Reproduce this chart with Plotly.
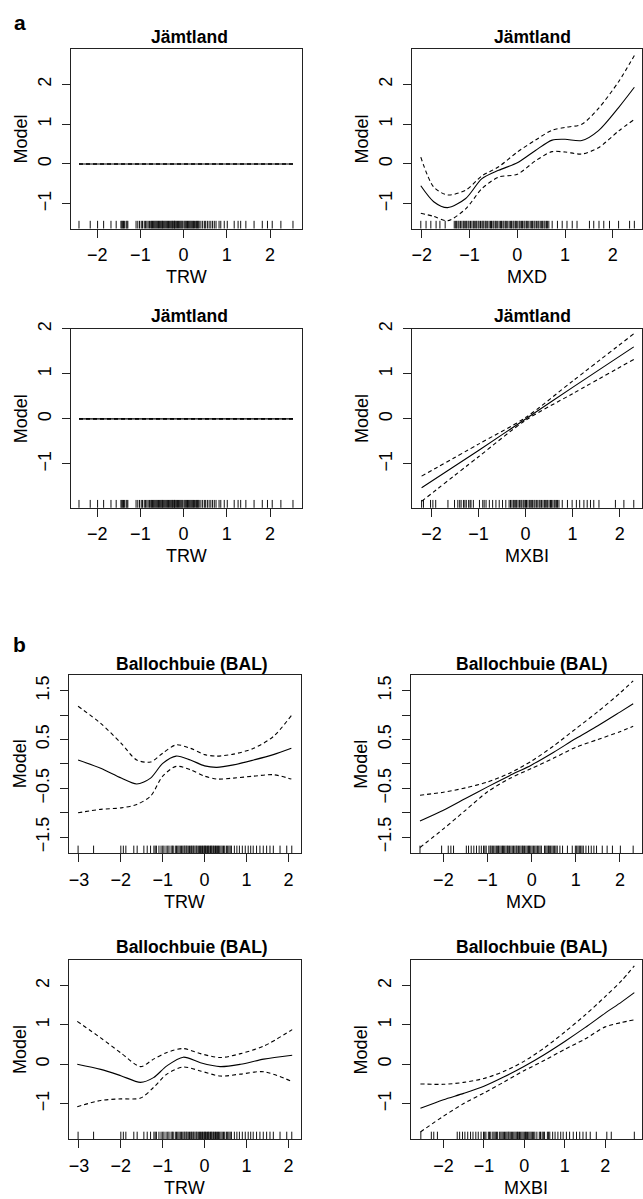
import plotly.graph_objects as go

W, H = 643, 1199
FONT = "Liberation Sans, Arial, Helvetica, sans-serif"

# ---------------- Jämtland ----------------
# TRW smooth (shrunk to zero)
jam_trw_x = [-2.42, 2.53]
jam_trw_fit = [0.0, 0.0]
jam_trw_up = [0.0, 0.0]
jam_trw_lo = [0.0, 0.0]
jam_trw_rug = [-2.42, -2.16, -1.99, -1.85, -1.68, -1.56, -1.45, -1.43, -1.41, -1.39, -1.37, -1.33,
               -1.31, -1.29, -1.10, -1.06, -1.02, -0.98, -0.95, -0.91, -0.88, -0.85, -0.82, -0.79,
               -0.76, -0.74, -0.72, -0.70, -0.68, -0.66, -0.64, -0.62, -0.60, -0.58, -0.56, -0.54,
               -0.52, -0.50, -0.49, -0.47, -0.45, -0.43, -0.41, -0.39, -0.37, -0.35, -0.33, -0.31,
               -0.29, -0.27, -0.26, -0.24, -0.22, -0.21, -0.20, -0.18, -0.16, -0.14, -0.12, -0.10,
               -0.08, -0.06, -0.04, -0.02, 0.01, 0.03, 0.05, 0.07, 0.09, 0.11, 0.13, 0.15, 0.17,
               0.19, 0.21, 0.23, 0.25, 0.28, 0.30, 0.32, 0.34, 0.36, 0.40, 0.44, 0.48, 0.51, 0.55,
               0.59, 0.63, 0.67, 0.71, 0.75, 0.82, 0.86, 0.94, 1.01, 1.17, 1.26, 1.32, 1.44, 1.63,
               1.82, 1.94, 2.05, 2.25, 2.53]

# MXD smooth
jam_mxd_x = [-2.02, -1.75, -1.46, -1.08, -0.74, -0.39, 0.00, 0.38, 0.73, 1.00, 1.35, 1.70, 2.12, 2.45]
jam_mxd_fit = [-0.55, -0.95, -1.10, -0.87, -0.37, -0.16, 0.03, 0.34, 0.60, 0.62, 0.59, 0.84, 1.42, 1.93]
jam_mxd_up = [0.17, -0.58, -0.78, -0.66, -0.30, -0.07, 0.30, 0.60, 0.85, 0.92, 1.00, 1.40, 2.07, 2.73]
jam_mxd_lo = [-1.24, -1.32, -1.43, -1.13, -0.62, -0.33, -0.26, 0.08, 0.31, 0.30, 0.25, 0.41, 0.83, 1.12]
jam_mxd_rug = [-2.02, -1.91, -1.81, -1.70, -1.62, -1.51, -1.32, -1.29, -1.27, -1.24, -1.22, -1.19,
               -1.16, -1.13, -1.11, -1.08, -1.06, -1.03, -1.01, -0.98, -0.95, -0.92, -0.90, -0.87,
               -0.85, -0.82, -0.80, -0.77, -0.74, -0.72, -0.70, -0.67, -0.65, -0.62, -0.59, -0.56,
               -0.54, -0.51, -0.49, -0.46, -0.44, -0.41, -0.38, -0.35, -0.33, -0.30, -0.28, -0.25,
               -0.23, -0.20, -0.17, -0.14, -0.12, -0.09, -0.07, -0.04, -0.02, 0.01, 0.04, 0.06,
               0.09, 0.11, 0.14, 0.16, 0.19, 0.21, 0.24, 0.27, 0.30, 0.32, 0.35, 0.37, 0.40, 0.43,
               0.45, 0.48, 0.51, 0.53, 0.56, 0.58, 0.61, 0.63, 0.66, 0.73, 0.84, 0.94, 1.04, 1.15,
               1.25, 1.51, 1.60, 1.71, 1.81, 1.93, 2.12, 2.35, 2.45]

# MXBI smooth
jam_mxbi_x = [-2.21, -1.0, 0.0, 1.0, 2.30]
jam_mxbi_fit = [-1.53, -0.70, 0.00, 0.70, 1.60]
jam_mxbi_up = [-1.27, -0.56, 0.03, 0.84, 1.89]
jam_mxbi_lo = [-1.83, -0.84, -0.03, 0.56, 1.32]
jam_mxbi_rug = [-2.21, -2.17, -2.02, -1.97, -1.91, -1.65, -1.51, -1.44, -1.40, -1.37, -1.32, -1.29,
                -1.26, -1.21, -1.18, -1.16, -1.11, -0.98, -0.91, -0.88, -0.84, -0.77, -0.70, -0.63,
                -0.56, -0.49, -0.42, -0.35, -0.32, -0.29, -0.26, -0.24, -0.21, -0.19, -0.16, -0.13,
                -0.10, -0.08, -0.05, -0.03, 0.00, 0.02, 0.05, 0.08, 0.10, 0.13, 0.15, 0.18, 0.20,
                0.23, 0.26, 0.29, 0.31, 0.34, 0.37, 0.40, 0.42, 0.45, 0.47, 0.50, 0.53, 0.55, 0.58,
                0.61, 0.63, 0.66, 0.68, 0.71, 0.78, 0.89, 0.99, 1.08, 1.15, 1.24, 1.31, 1.38, 1.45,
                1.56, 1.91, 2.09, 2.30]

# ---------------- Ballochbuie (BAL) ----------------
# TRW smooth, first model
bal_trw1_x = [-3.02, -2.48, -1.99, -1.62, -1.29, -1.00, -0.68, -0.34, 0.00, 0.29, 0.69, 1.17, 1.64, 2.07]
bal_trw1_fit = [0.08, -0.09, -0.29, -0.41, -0.29, 0.01, 0.16, 0.08, -0.04, -0.07, -0.02, 0.08, 0.19, 0.32]
bal_trw1_up = [1.18, 0.83, 0.42, 0.08, 0.04, 0.22, 0.39, 0.32, 0.19, 0.16, 0.20, 0.32, 0.56, 0.99]
bal_trw1_lo = [-1.00, -0.93, -0.90, -0.83, -0.66, -0.25, -0.05, -0.12, -0.25, -0.31, -0.29, -0.25, -0.22, -0.31]

# TRW smooth, second model
bal_trw2_x = [-3.04, -2.48, -2.00, -1.53, -1.22, -0.90, -0.51, -0.10, 0.37, 0.86, 1.41, 2.09]
bal_trw2_fit = [0.00, -0.13, -0.29, -0.46, -0.34, -0.04, 0.18, 0.04, -0.06, 0.00, 0.13, 0.23]
bal_trw2_up = [1.09, 0.67, 0.29, -0.06, 0.13, 0.30, 0.40, 0.27, 0.17, 0.27, 0.46, 0.88]
bal_trw2_lo = [-1.08, -0.92, -0.88, -0.86, -0.59, -0.25, -0.07, -0.17, -0.30, -0.25, -0.19, -0.44]

bal_trw_rug = [-3.02, -2.65, -2.00, -1.94, -1.88, -1.69, -1.61, -1.45, -1.37, -1.29, -1.21, -1.18,
               -1.15, -1.09, -1.04, -1.00, -0.97, -0.92, -0.88, -0.85, -0.80, -0.77, -0.75, -0.70,
               -0.67, -0.64, -0.61, -0.58, -0.55, -0.52, -0.49, -0.47, -0.44, -0.42, -0.39, -0.36,
               -0.33, -0.31, -0.28, -0.26, -0.23, -0.20, -0.18, -0.15, -0.12, -0.10, -0.07, -0.05,
               -0.02, 0.00, 0.02, 0.04, 0.07, 0.09, 0.11, 0.14, 0.16, 0.18, 0.21, 0.23, 0.26, 0.28,
               0.31, 0.33, 0.36, 0.39, 0.42, 0.45, 0.48, 0.52, 0.55, 0.58, 0.61, 0.64, 0.71, 0.77,
               0.83, 0.90, 0.97, 1.04, 1.10, 1.16, 1.24, 1.32, 1.40, 1.48, 1.56, 1.64, 1.80, 1.96,
               2.08]

# MXD smooth
bal_mxd_x = [-2.53, -2.0, -1.5, -1.0, -0.5, 0.0, 0.5, 1.0, 1.5, 2.0, 2.30]
bal_mxd_fit = [-1.17, -0.95, -0.71, -0.47, -0.24, -0.02, 0.24, 0.52, 0.78, 1.06, 1.23]
bal_mxd_up = [-0.64, -0.58, -0.49, -0.37, -0.19, 0.06, 0.37, 0.72, 1.07, 1.45, 1.70]
bal_mxd_lo = [-1.71, -1.33, -0.95, -0.57, -0.30, -0.09, 0.12, 0.34, 0.50, 0.66, 0.77]
bal_mxd_rug = [-2.53, -2.04, -1.89, -1.83, -1.77, -1.48, -1.43, -1.37, -1.31, -1.25, -1.19, -1.14,
               -1.09, -1.06, -1.03, -0.97, -0.94, -0.92, -0.89, -0.86, -0.83, -0.80, -0.77, -0.75,
               -0.72, -0.69, -0.66, -0.64, -0.61, -0.58, -0.55, -0.53, -0.50, -0.47, -0.44, -0.41,
               -0.38, -0.35, -0.33, -0.30, -0.27, -0.24, -0.21, -0.19, -0.16, -0.13, -0.10, -0.07,
               -0.05, -0.02, 0.01, 0.04, 0.07, 0.10, 0.13, 0.16, 0.19, 0.22, 0.29, 0.32, 0.35, 0.38,
               0.40, 0.43, 0.46, 0.49, 0.52, 0.55, 0.58, 0.64, 0.70, 0.81, 0.92, 0.99, 1.02, 1.05,
               1.08, 1.11, 1.14, 1.17, 1.23, 1.29, 1.35, 1.41, 1.47, 1.60, 1.71, 1.83, 2.01, 2.30]

# MXBI smooth
bal_mxbi_x = [-2.57, -2.0, -1.5, -1.0, -0.5, 0.0, 0.5, 1.0, 1.5, 2.0, 2.4, 2.72]
bal_mxbi_fit = [-1.12, -0.90, -0.74, -0.56, -0.32, -0.05, 0.25, 0.58, 0.93, 1.30, 1.58, 1.82]
bal_mxbi_up = [-0.50, -0.51, -0.46, -0.36, -0.18, 0.08, 0.42, 0.82, 1.25, 1.72, 2.12, 2.50]
bal_mxbi_lo = [-1.72, -1.32, -1.00, -0.73, -0.45, -0.16, 0.10, 0.38, 0.64, 0.95, 1.06, 1.13]
bal_mxbi_rug = [-2.56, -2.30, -2.24, -2.15, -1.66, -1.60, -1.53, -1.47, -1.40, -1.33, -1.27, -1.20,
                -1.14, -1.07, -1.01, -0.98, -0.95, -0.89, -0.86, -0.83, -0.78, -0.75, -0.72, -0.69,
                -0.66, -0.61, -0.58, -0.55, -0.52, -0.49, -0.46, -0.43, -0.40, -0.38, -0.35, -0.32,
                -0.29, -0.26, -0.23, -0.20, -0.17, -0.15, -0.12, -0.09, -0.06, -0.03, 0.00, 0.03,
                0.05, 0.08, 0.11, 0.14, 0.17, 0.20, 0.23, 0.26, 0.31, 0.37, 0.40, 0.44, 0.47, 0.50,
                0.57, 0.60, 0.63, 0.70, 0.76, 0.83, 0.90, 0.96, 1.04, 1.12, 1.21, 1.29, 1.37, 1.45,
                1.53, 1.63, 1.78, 2.04, 2.15, 2.72]

# Axis ticks
int_ticks_x3 = [-3, -2, -1, 0, 1, 2]
int_ticks_x2 = [-2, -1, 0, 1, 2]
int_ticks_y = [-1, 0, 1, 2]
half_ticks_y = [-1.5, -1.0, -0.5, 0.0, 0.5, 1.0, 1.5]
half_ticks_text = ["\u22121.5", "", "\u22120.5", "", "0.5", "", "1.5"]

# Panel definitions: data + pixel box (left, right, top, bottom)
panels = [
    dict(title="Jämtland", xlab="TRW", x=jam_trw_x, fit=jam_trw_fit, up=jam_trw_up, lo=jam_trw_lo,
         rug=jam_trw_rug, xr=[-2.61, 2.74], yr=[-1.625, 2.9], xt=int_ticks_x2, yt=int_ticks_y, ytt=None,
         box=(70, 302, 41, 222), tx=189, ty=29),
    dict(title="Jämtland", xlab="MXD", x=jam_mxd_x, fit=jam_mxd_fit, up=jam_mxd_up, lo=jam_mxd_lo,
         rug=jam_mxd_rug, xr=[-2.21, 2.61], yr=[-1.625, 2.9], xt=int_ticks_x2, yt=int_ticks_y, ytt=None,
         box=(412, 643, 41, 222), tx=533, ty=29),
    dict(title="Jämtland", xlab="TRW", x=jam_trw_x, fit=jam_trw_fit, up=jam_trw_up, lo=jam_trw_lo,
         rug=jam_trw_rug, xr=[-2.61, 2.74], yr=[-1.97, 2.0], xt=int_ticks_x2, yt=int_ticks_y, ytt=None,
         box=(70, 302, 323, 503), tx=189, ty=310),
    dict(title="Jämtland", xlab="MXBI", x=jam_mxbi_x, fit=jam_mxbi_fit, up=jam_mxbi_up, lo=jam_mxbi_lo,
         rug=jam_mxbi_rug, xr=[-2.42, 2.475], yr=[-1.97, 2.0], xt=int_ticks_x2, yt=int_ticks_y, ytt=None,
         box=(412, 643, 323, 503), tx=533, ty=310),
    dict(title="Ballochbuie (BAL)", xlab="TRW", x=bal_trw1_x, fit=bal_trw1_fit, up=bal_trw1_up, lo=bal_trw1_lo,
         rug=bal_trw_rug, xr=[-3.23, 2.29], yr=[-1.83, 1.83], xt=int_ticks_x3, yt=half_ticks_y, ytt=half_ticks_text,
         box=(68.5, 300.5, 671, 851), tx=192, ty=660),
    dict(title="Ballochbuie (BAL)", xlab="MXD", x=bal_mxd_x, fit=bal_mxd_fit, up=bal_mxd_up, lo=bal_mxd_lo,
         rug=bal_mxd_rug, xr=[-2.74, 2.50], yr=[-1.83, 1.83], xt=int_ticks_x2, yt=half_ticks_y, ytt=half_ticks_text,
         box=(411, 643, 671, 851), tx=533, ty=660),
    dict(title="Ballochbuie (BAL)", xlab="TRW", x=bal_trw2_x, fit=bal_trw2_fit, up=bal_trw2_up, lo=bal_trw2_lo,
         rug=bal_trw_rug, xr=[-3.23, 2.29], yr=[-1.91, 2.66], xt=int_ticks_x3, yt=int_ticks_y, ytt=None,
         box=(68.5, 300.5, 958, 1139), tx=192, ty=945),
    dict(title="Ballochbuie (BAL)", xlab="MXBI", x=bal_mxbi_x, fit=bal_mxbi_fit, up=bal_mxbi_up, lo=bal_mxbi_lo,
         rug=bal_mxbi_rug, xr=[-2.81, 2.91], yr=[-1.91, 2.66], xt=int_ticks_x2, yt=int_ticks_y, ytt=None,
         box=(411, 643, 958, 1139), tx=533, ty=945),
]


def fx(px):
    return px / W


def fy(py):
    return 1 - py / H


fig = go.Figure()
layout = dict(width=W, height=H, margin=dict(l=0, r=0, t=0, b=0), autosize=False,
              paper_bgcolor="white", plot_bgcolor="white", showlegend=False,
              font=dict(family=FONT, size=18, color="black"))
annotations = []

for i, p in enumerate(panels, start=1):
    xa = "x" if i == 1 else f"x{i}"
    ya = "y" if i == 1 else f"y{i}"
    l, r, t, b = p["box"]
    common = dict(showgrid=False, zeroline=False, showline=True, mirror=True, linecolor="#222",
                  linewidth=1, ticks="outside", ticklen=8, tickwidth=1, tickcolor="#222",
                  tickfont=dict(family=FONT, size=18, color="black"), fixedrange=True)
    layout[f"xaxis{'' if i == 1 else i}"] = dict(
        domain=[fx(l), min(fx(r), 1.0)], range=p["xr"], anchor=ya, tickvals=p["xt"],
        ticklabelstandoff=2, **common)
    ydict = dict(domain=[fy(b), fy(t)], range=p["yr"], anchor=xa, tickvals=p["yt"],
                 tickangle=-90, ticklabelstandoff=4, **common)
    if p["ytt"] is not None:
        ydict["ticktext"] = p["ytt"]
    layout[f"yaxis{'' if i == 1 else i}"] = ydict

    # confidence band edges (dashed) and fitted smooth (solid)
    for key in ("up", "lo"):
        fig.add_trace(go.Scatter(x=p["x"], y=p[key], mode="lines", xaxis=xa, yaxis=ya,
                                 line=dict(color="black", width=1.1, dash="4px,3px", shape="spline",
                                           smoothing=0.8),
                                 hoverinfo="skip"))
    fig.add_trace(go.Scatter(x=p["x"], y=p["fit"], mode="lines", xaxis=xa, yaxis=ya,
                             line=dict(color="black", width=1.1, shape="spline", smoothing=0.8),
                             hoverinfo="skip"))
    # rug of observed predictor values along the bottom edge
    fig.add_trace(go.Scatter(x=p["rug"], y=[p["yr"][0]] * len(p["rug"]), mode="markers",
                             xaxis=xa, yaxis=ya, cliponaxis=True,
                             marker=dict(symbol="line-ns", size=11, line=dict(color="#111", width=1)),
                             hoverinfo="skip"))

    cx = (l + r) / 2
    cy = (t + b) / 2
    annotations.append(dict(text=f"<b>{p['title']}</b>", x=fx(p["tx"]), y=fy(p["ty"]),
                            xref="paper", yref="paper", xanchor="center", yanchor="middle",
                            showarrow=False, font=dict(family=FONT, size=17.5, color="black")))
    annotations.append(dict(text=p["xlab"], x=fx(cx), y=fy(b + 49), xref="paper", yref="paper",
                            xanchor="center", yanchor="middle", showarrow=False,
                            font=dict(family=FONT, size=18, color="black")))
    annotations.append(dict(text="Model", x=fx(l - 50), y=fy(cy), xref="paper", yref="paper",
                            xanchor="center", yanchor="middle", textangle=-90, showarrow=False,
                            font=dict(family=FONT, size=18, color="black")))

# panel letters
annotations.append(dict(text="<b>a</b>", x=fx(19), y=fy(15), xref="paper", yref="paper",
                        xanchor="center", yanchor="middle", showarrow=False,
                        font=dict(family=FONT, size=21, color="black")))
annotations.append(dict(text="<b>b</b>", x=fx(19), y=fy(641), xref="paper", yref="paper",
                        xanchor="center", yanchor="middle", showarrow=False,
                        font=dict(family=FONT, size=21, color="black")))

layout["annotations"] = annotations
fig.update_layout(**layout)
fig.write_html("out.html")
